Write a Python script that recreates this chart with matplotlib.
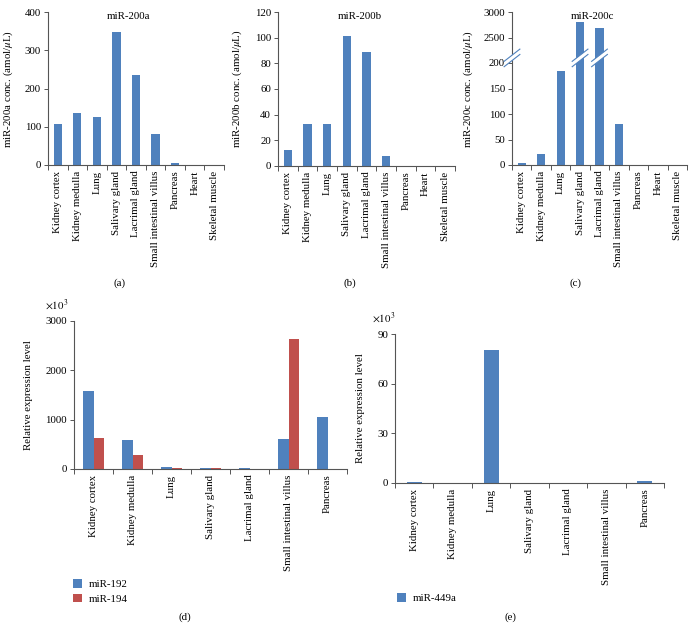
import numpy as np
import matplotlib
matplotlib.use("Agg")
import matplotlib.pyplot as plt
from matplotlib.patches import Polygon

plt.rcParams['font.family'] = ['Liberation Serif', 'DejaVu Serif']
plt.rcParams['mathtext.fontset'] = 'stix'
plt.rcParams['font.size'] = 7.8

# data
tissues9 = ["Kidney cortex", "Kidney medulla", "Lung", "Salivary gland", "Lacrimal gland",
            "Small intestinal villus", "Pancreas", "Heart", "Skeletal muscle"]
tissues7 = tissues9[:7]
mir200a = [106, 135, 125, 347, 235, 81, 6, 0, 0]
mir200b = [12.5, 33, 33, 101, 88.5, 8, 0, 0, 0]
mir200c = [3, 22, 185, 2800, 2680, 81, 0, 0, 0]
mir192 = [1590, 590, 40, 30, 25, 610, 1060]
mir194 = [620, 290, 20, 15, 8, 2640, 0]
mir449a = [0.7, 0, 80.5, 0, 0, 0, 1.5]

blue = '#4F81BD'
red = '#C0504D'
W, H = 694, 630

fig = plt.figure(figsize=(W / 100, H / 100), dpi=100)


def axes_px(left, right, top, bottom):
    return fig.add_axes([left / W, 1 - bottom / H, (right - left) / W, (bottom - top) / H])


def style(ax, labels):
    n = len(labels)
    for s in ['top', 'right']:
        ax.spines[s].set_visible(False)
    for s in ['left', 'bottom']:
        ax.spines[s].set_color('#555555')
        ax.spines[s].set_linewidth(0.8)
    ax.set_xlim(-0.5, n - 0.5)
    ax.set_xticks(range(n))
    ax.set_xticklabels(labels, rotation=90, va='top')
    ax.set_xticks(np.arange(n + 1) - 0.5, minor=True)
    ax.tick_params(axis='x', which='major', length=0, pad=4)
    ax.tick_params(axis='x', which='minor', length=3.5, width=0.7, color='#555555')
    ax.tick_params(axis='y', length=3, width=0.7, color='#555555', pad=2)


# (a)
ax = axes_px(48, 224, 12, 165)
ax.bar(range(9), mir200a, width=0.42, color=blue)
style(ax, tissues9)
ax.set_ylim(0, 400)
ax.set_yticks([0, 100, 200, 300, 400])
ax.set_ylabel(r'miR-200a conc. (amol/$\mu$L)')
ax.yaxis.set_label_coords(-0.19, 0.5)
ax.text(0.46, 1.0, 'miR-200a', transform=ax.transAxes, ha='center', va='top')
fig.text(120 / W, 1 - 283 / H, '(a)', ha='center', va='center')

# (b)
ax = axes_px(278, 455, 12, 166)
ax.bar(range(9), mir200b, width=0.42, color=blue)
style(ax, tissues9)
ax.set_ylim(0, 120)
ax.set_yticks(range(0, 121, 20))
ax.set_ylabel(r'miR-200b conc. (amol/$\mu$L)')
ax.yaxis.set_label_coords(-0.19, 0.5)
ax.text(0.46, 1.0, 'miR-200b', transform=ax.transAxes, ha='center', va='top')
fig.text(350 / W, 1 - 283 / H, '(b)', ha='center', va='center')


# (c) broken axis via piecewise scale
def fwd(v):
    v = np.asarray(v, dtype=float)
    return np.where(v <= 200, v / 50,
                    np.where(v <= 2500, 4 + (v - 200) / 2300, 5 + (v - 2500) / 500))


def inv(u):
    u = np.asarray(u, dtype=float)
    return np.where(u <= 4, u * 50,
                    np.where(u <= 5, 200 + (u - 4) * 2300, 2500 + (u - 5) * 500))


ax = axes_px(512, 687, 12, 165)
ax.set_yscale('function', functions=(fwd, inv))
ax.bar(range(9), mir200c, width=0.42, color=blue)
style(ax, tissues9)
ax.set_ylim(0, 3000)
ax.set_yticks([0, 50, 100, 150, 200, 2500, 3000])
ax.set_yticklabels(['0', '50', '100', '150', '200', '2500', '3000'])
ax.set_ylabel(r'miR-200c conc. (amol/$\mu$L)')
ax.yaxis.set_label_coords(-0.21, 0.5)
ax.text(0.46, 1.0, 'miR-200c', transform=ax.transAxes, ha='center', va='top')
fig.text(575 / W, 1 - 283 / H, '(c)', ha='center', va='center')

# break marks (axes fraction coords)
yb = 0.70
dx, dy, gap = 0.045, 0.04, 0.035
for xc in [0.0, 3 / 9 + 0.5 / 9, 4 / 9 + 0.5 / 9]:
    poly = Polygon([[xc - dx, yb - dy - gap / 2], [xc + dx, yb + dy - gap / 2],
                    [xc + dx, yb + dy + gap / 2], [xc - dx, yb - dy + gap / 2]],
                   closed=True, facecolor='white', edgecolor='none',
                   transform=ax.transAxes, clip_on=False, zorder=5)
    ax.add_patch(poly)
    for off in [-gap / 2, gap / 2]:
        ax.plot([xc - dx, xc + dx], [yb - dy + off, yb + dy + off], color=blue, lw=0.8,
                transform=ax.transAxes, clip_on=False, zorder=6)

# (d)
ax = axes_px(74, 347, 321, 469)
x = np.arange(7)
b1 = ax.bar(x - 0.14, mir192, width=0.28, color=blue, label='miR-192')
b2 = ax.bar(x + 0.14, mir194, width=0.28, color=red, label='miR-194')
style(ax, tissues7)
ax.set_ylim(0, 3000)
ax.set_yticks([0, 1000, 2000, 3000])
ax.set_ylabel('Relative expression level')
ax.yaxis.set_label_coords(-0.15, 0.5)
fig.text(45 / W, 1 - 305 / H, r'$\times10^3$', ha='left', va='center')
fig.legend(handles=[b1, b2], loc='upper left', bbox_to_anchor=(68 / W, 1 - 574 / H),
           frameon=False, handlelength=0.8, handleheight=0.8, handletextpad=0.6,
           labelspacing=0.4, borderpad=0)
fig.text(185 / W, 1 - 617 / H, '(d)', ha='center', va='center')

# (e)
ax = axes_px(395, 664, 334, 483)
b3 = ax.bar(range(7), mir449a, width=0.39, color=blue, label='miR-449a')
style(ax, tissues7)
ax.set_ylim(0, 90)
ax.set_yticks([0, 30, 60, 90])
ax.set_ylabel('Relative expression level')
ax.yaxis.set_label_coords(-0.11, 0.5)
fig.text(372 / W, 1 - 318 / H, r'$\times10^3$', ha='left', va='center')
fig.legend(handles=[b3], loc='upper left', bbox_to_anchor=(392 / W, 1 - 588 / H),
           frameon=False, handlelength=0.8, handleheight=0.8, handletextpad=0.6,
           borderpad=0)
fig.text(510 / W, 1 - 617 / H, '(e)', ha='center', va='center')

fig.savefig('out.png', dpi=100)
